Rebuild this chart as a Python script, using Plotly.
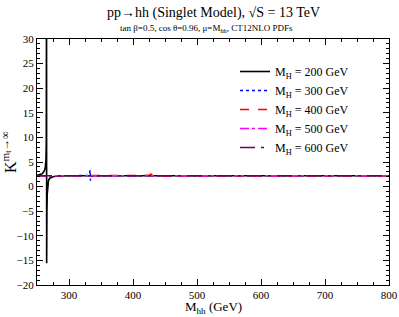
import plotly.graph_objects as go

# ---- data ----
x_mh200 = [250, 255, 258, 260, 262, 263, 264, 264.5, 264.9, 265.1, 265.5, 266, 267, 268, 270, 275, 280, 300, 350, 400, 450, 500, 600, 700, 800]
k_mh200 = [2.3, 2.4, 2.6, 2.9, 3.4, 4.0, 5.5, 9.0, 45.0, -15.6, -5.0, -1.5, 0.6, 1.3, 1.7, 2.0, 2.1, 2.2, 2.2, 2.2, 2.2, 2.2, 2.2, 2.2, 2.2]

x_mh300 = [250, 270, 300, 320, 330, 332, 333, 333.6, 334.2, 336, 340, 400, 500, 600, 700, 800]
k_mh300 = [2.2, 2.2, 2.2, 2.2, 2.25, 2.6, 3.4, 1.2, 1.8, 2.1, 2.2, 2.2, 2.2, 2.2, 2.2, 2.2]

x_mh400 = [250, 300, 400, 420, 426, 428, 430, 434, 450, 500, 600, 700, 800]
k_mh400 = [2.2, 2.2, 2.2, 2.2, 2.3, 2.55, 2.3, 2.15, 2.2, 2.2, 2.2, 2.2, 2.2]

x_mh500 = [250, 300, 400, 500, 600, 700, 800]
k_mh500 = [2.2, 2.2, 2.2, 2.2, 2.2, 2.2, 2.2]

x_mh600 = [250, 300, 400, 500, 600, 700, 800]
k_mh600 = [2.2, 2.2, 2.2, 2.2, 2.2, 2.2, 2.2]

labels = ["M<sub>H</sub> = 200 GeV", "M<sub>H</sub> = 300 GeV", "M<sub>H</sub> = 400 GeV",
          "M<sub>H</sub> = 500 GeV", "M<sub>H</sub> = 600 GeV"]

series = [
    (x_mh200, k_mh200, "#000000", "solid", 1.6),
    (x_mh300, k_mh300, "#0000ff", "dot", 1.4),
    (x_mh400, k_mh400, "#ff0000", "dash", 1.4),
    (x_mh500, k_mh500, "#ff00ff", "dashdot", 1.4),
    (x_mh600, k_mh600, "#670748", "longdashdot", 1.4),
]

fig = go.Figure()
for (xs, ys, col, dash, w), name in zip(series, labels):
    fig.add_trace(go.Scatter(x=xs, y=ys, mode="lines", name=name,
                             line=dict(color=col, dash=dash, width=w)))

FONT = "Liberation Serif, Times New Roman, serif"
PW = 352.0
PH = 246.0
fig.update_layout(
    width=399, height=317,
    margin=dict(l=37, r=10, t=39, b=32, autoexpand=False),
    paper_bgcolor="white", plot_bgcolor="white",
    font=dict(family=FONT, color="black", size=12),
    showlegend=True,
    legend=dict(x=(235 - 37) / PW, y=1 - (57 - 39) / PH, xanchor="left", yanchor="top",
                font=dict(family=FONT, size=12), bgcolor="rgba(0,0,0,0)",
                tracegroupgap=0, itemwidth=30),
    annotations=[
        dict(text="pp→hh (Singlet Model), √S = 13 TeV", x=(213 - 37) / PW, y=1, xref="paper", yref="paper",
             yanchor="bottom", yshift=16, showarrow=False, font=dict(size=14, family=FONT)),
        dict(text="tan β=0.5, cos θ=0.96, μ=M<sub>hh</sub>, CT12NLO PDFs", x=(206 - 37) / PW, y=1,
             xref="paper", yref="paper", yanchor="bottom", yshift=3,
             showarrow=False, font=dict(size=9, family=FONT)),
        dict(text="M<sub>hh</sub> (GeV)", x=(213 - 37) / PW, y=0, xref="paper", yref="paper",
             yanchor="top", yshift=-12, showarrow=False, font=dict(size=13, family=FONT)),
        dict(text="K<sup>m<sub>t</sub>→∞</sup>", x=0, y=1 - (152 - 39) / PH, xref="paper", yref="paper",
             xanchor="right", xshift=-16, textangle=-90, showarrow=False, font=dict(size=16, family=FONT)),
    ],
)

fig.update_xaxes(range=[250, 800], showline=True, linecolor="black", linewidth=1, mirror="ticks",
                 ticks="inside", ticklen=6, tickcolor="black", dtick=100, tick0=0,
                 minor=dict(ticks="inside", ticklen=3, dtick=25, tickcolor="black"),
                 showgrid=False, zeroline=False, automargin=False,
                 tickfont=dict(size=11, family=FONT))
fig.update_yaxes(range=[-20, 30], showline=True, linecolor="black", linewidth=1, mirror="ticks",
                 ticks="inside", ticklen=6, tickcolor="black", dtick=5, tick0=0,
                 minor=dict(ticks="inside", ticklen=3, dtick=1, tickcolor="black"),
                 showgrid=False, zeroline=False, automargin=False,
                 tickfont=dict(size=11, family=FONT))

fig.write_html("out.html", config={"displayModeBar": False},
               post_script="document.body.style.margin='0';document.body.style.overflow='hidden';")
